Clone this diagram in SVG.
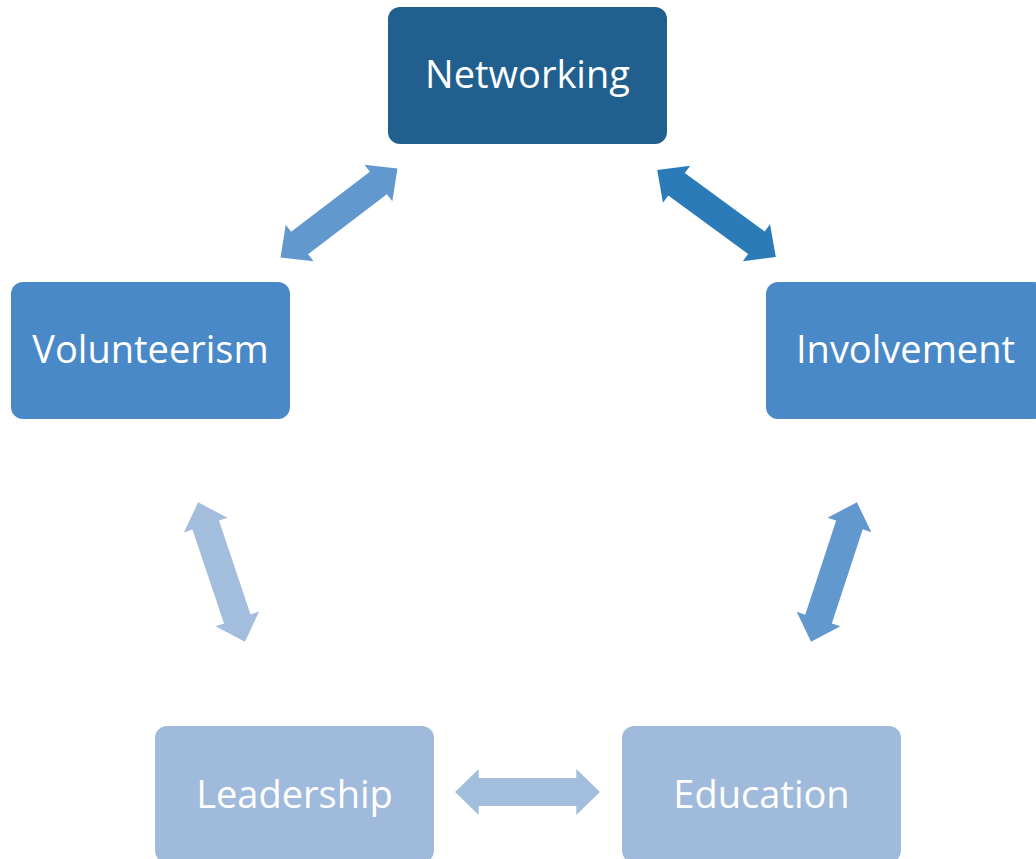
<svg xmlns="http://www.w3.org/2000/svg" width="1036" height="859" viewBox="0 0 1036 859">
<defs>
<style>
.lbl{font-family:"Open Sans","Liberation Sans",sans-serif;font-size:38px;fill:#ffffff;text-anchor:middle}
</style>
<path id="dbl" d="M-73.5,0 L-49.5,-23 L-49.5,-14 L49.5,-14 L49.5,-23 L73.5,0 L49.5,23 L49.5,14 L-49.5,14 L-49.5,23 Z"/>
</defs>
<rect width="1036" height="859" fill="#ffffff"/>
<g id="connectors">
<use href="#dbl" fill="#6199CE" transform="translate(339,213) rotate(-37.3)"/>
<use href="#dbl" fill="#2A7BB8" transform="translate(716.5,213.5) rotate(36.2)"/>
<use href="#dbl" fill="#A3BDDC" transform="translate(221.5,572) rotate(71.4)"/>
<use href="#dbl" fill="#6199CE" transform="translate(834,572) rotate(-71.8)"/>
<use href="#dbl" fill="#A3BDDC" transform="translate(527.5,792) scale(0.986,1)"/>
</g>
<g id="networking">
<rect x="388" y="7" width="279" height="137" rx="12" fill="#215F8F"/>
<text class="lbl" x="527.5" y="88">Networking</text>
</g>
<g id="volunteerism">
<rect x="11" y="282" width="279" height="137" rx="12" fill="#4A89C8"/>
<text class="lbl" x="150.5" y="363">Volunteerism</text>
</g>
<g id="involvement">
<rect x="766" y="282" width="279" height="137" rx="12" fill="#4A89C8"/>
<text class="lbl" x="905.5" y="363">Involvement</text>
</g>
<g id="leadership">
<rect x="155" y="726" width="279" height="137" rx="12" fill="#A0BADB"/>
<text class="lbl" x="294.5" y="808">Leadership</text>
</g>
<g id="education">
<rect x="622" y="726" width="279" height="137" rx="12" fill="#A0BADB"/>
<text class="lbl" x="761.5" y="808">Education</text>
</g>
</svg>
